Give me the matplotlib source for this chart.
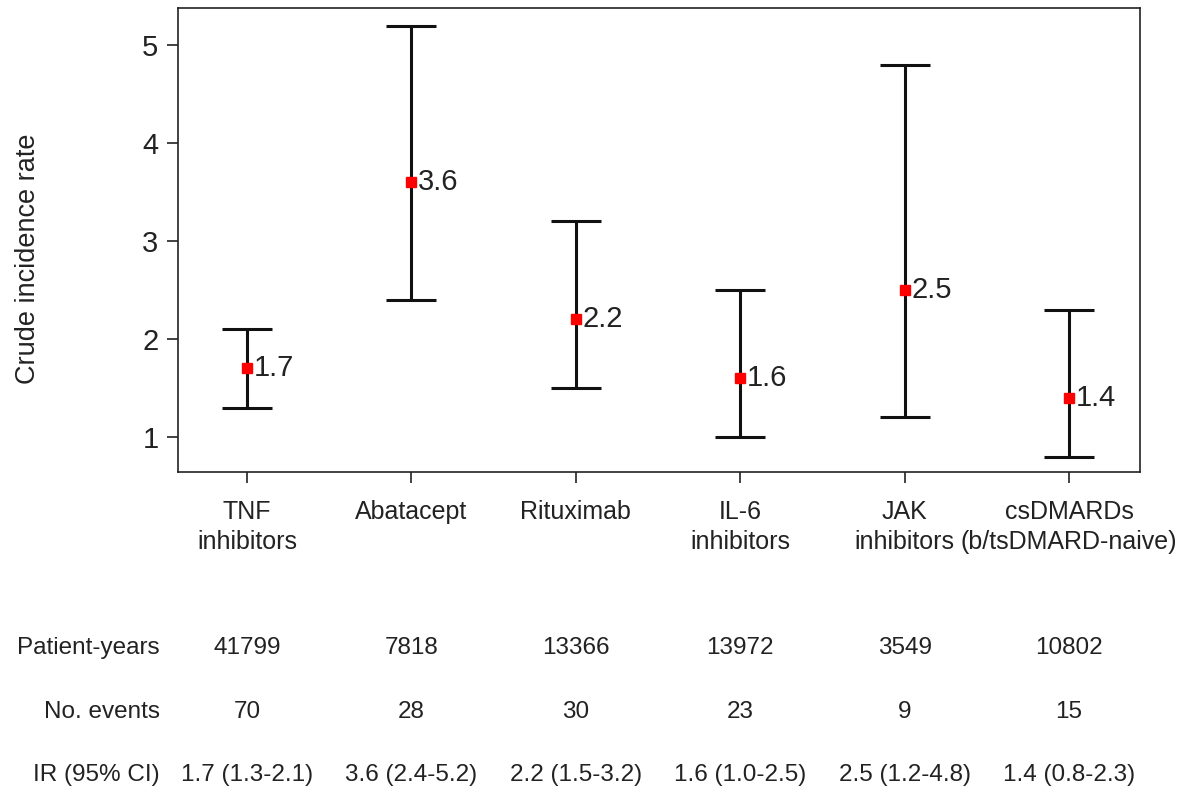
import matplotlib.pyplot as plt
import matplotlib.transforms as mtransforms

plt.rcParams['font.family'] = ['Liberation Sans', 'DejaVu Sans']

categories = ['TNF\ninhibitors', 'Abatacept', 'Rituximab', 'IL-6\ninhibitors',
              'JAK\ninhibitors', 'csDMARDs\n(b/tsDMARD-naive)']
rate = [1.7, 3.6, 2.2, 1.6, 2.5, 1.4]
ci_low = [1.3, 2.4, 1.5, 1.0, 1.2, 0.8]
ci_high = [2.1, 5.2, 3.2, 2.5, 4.8, 2.3]
patient_years = [41799, 7818, 13366, 13972, 3549, 10802]
events = [70, 28, 30, 23, 9, 15]

fig = plt.figure(figsize=(11.86, 7.95), dpi=100)
ax = fig.add_axes([0.150, 0.406, 0.811, 0.584])

x = list(range(len(categories)))
err = [[r - lo for r, lo in zip(rate, ci_low)],
       [hi - r for r, hi in zip(rate, ci_high)]]
ax.errorbar(x, rate, yerr=err, fmt='none', ecolor='#111111', elinewidth=2.2,
            capsize=18, capthick=2.2, zorder=2)
ax.plot(x, rate, 's', color='red', markersize=7, zorder=3)
for xi, r in zip(x, rate):
    ax.annotate(f'{r:.1f}', (xi, r), xytext=(5, 0), textcoords='offset points',
                ha='left', va='center', fontsize=21, color='#222222')

ax.set_xlim(-0.42, 5.43)
ax.set_ylim(0.64, 5.38)
ax.set_yticks([1, 2, 3, 4, 5])
ax.set_xticks(x)
ax.set_xticklabels(categories, fontsize=18, color='#222222', linespacing=1.3)
ax.tick_params(axis='y', labelsize=21, length=8, width=1.2, colors='#222222', pad=6)
ax.tick_params(axis='x', length=8, width=1.2, colors='#222222', pad=12)
for s in ax.spines.values():
    s.set_linewidth(1.2)
    s.set_color('#222222')
fig.text(28 / 1186, 1 - 259 / 795, 'Crude incidence rate', rotation=90,
         ha='center', va='center', fontsize=19.5, color='#222222')

# summary table below the plot
trans = mtransforms.blended_transform_factory(ax.transData, fig.transFigure)
rows = [('Patient-years', [str(v) for v in patient_years], 1 - 648 / 795),
        ('No. events', [str(v) for v in events], 1 - 712 / 795),
        ('IR (95% CI)', [f'{r:.1f} ({lo:.1f}-{hi:.1f})'
                         for r, lo, hi in zip(rate, ci_low, ci_high)], 1 - 775 / 795)]
for label, vals, yf in rows:
    fig.text(160 / 1186, yf, label, ha='right', va='center', fontsize=17.5, color='#222222')
    for xi, v in zip(x, vals):
        ax.text(xi, yf, v, transform=trans, ha='center', va='center',
                fontsize=17.5, color='#222222')

fig.savefig('out.png', dpi=100)
